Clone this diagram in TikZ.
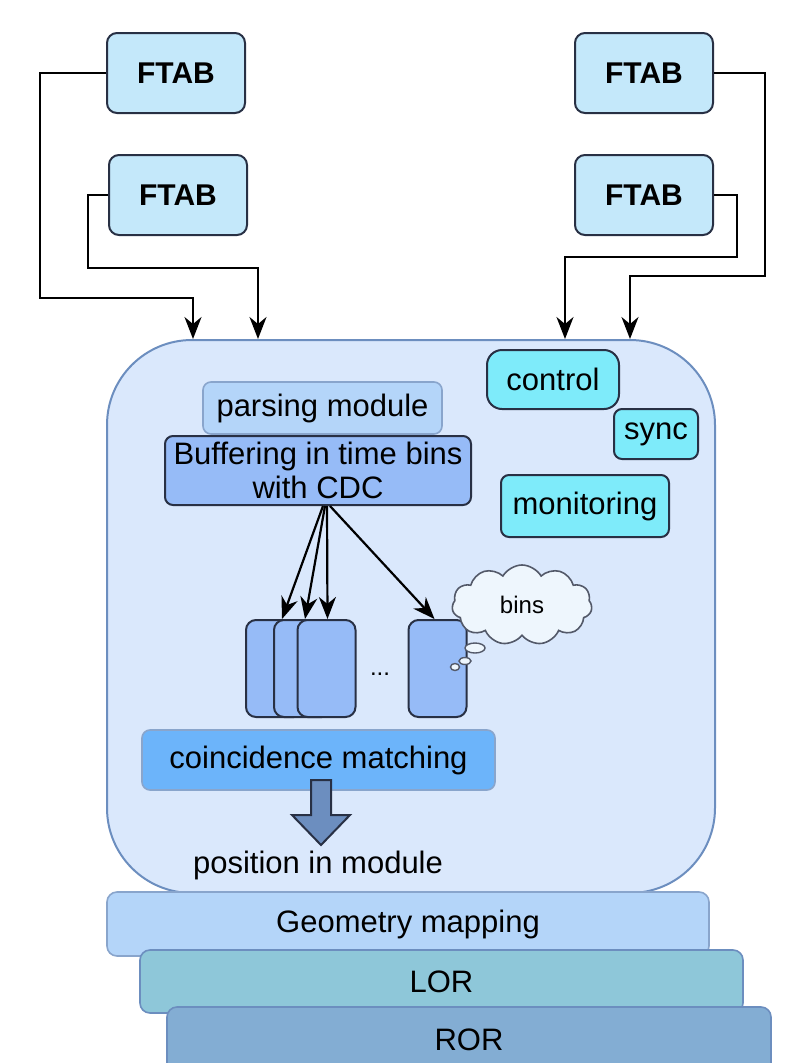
\documentclass[tikz,border=0pt]{standalone}
\usepackage{fontspec}
\setmainfont{Liberation Sans}
\usetikzlibrary{arrows.meta, positioning, shapes.symbols}
\definecolor{dline}{RGB}{40,48,68}
\definecolor{ftabfill}{RGB}{196,232,250}
\definecolor{fpgafill}{RGB}{218,232,252}
\definecolor{fpgaline}{RGB}{108,142,191}
\definecolor{parsefill}{RGB}{180,213,249}
\definecolor{bufffill}{RGB}{150,187,247}
\definecolor{ctrlfill}{RGB}{126,235,250}
\definecolor{matchfill}{RGB}{108,180,250}
\definecolor{lorfill}{RGB}{142,199,217}
\definecolor{rorfill}{RGB}{131,173,211}
\definecolor{cloudfill}{RGB}{238,246,253}

\begin{document}
\begin{tikzpicture}[x=1pt, y=-1pt,
  ftab/.style={draw=dline, line width=2pt, rounded corners=10pt, fill=ftabfill,
  minimum width=138pt, minimum height=80pt, inner sep=0pt,
  font=\fontsize{30}{34}\selectfont\bfseries},
  blk/.style={draw=dline, line width=2pt, rounded corners=8pt, inner sep=0pt,
  align=center, font=\fontsize{31}{34}\selectfont},
  soft/.style={blk, draw=fpgaline!80, line width=1.6pt},
  ctrl/.style={blk, fill=ctrlfill},
  bin/.style={draw=dline, line width=2pt, rounded corners=10pt, fill=bufffill,
  minimum width=58pt, minimum height=97pt},
  arr/.style={-{Stealth[length=22pt,width=17pt,inset=7pt]}, line width=2.2pt}
]
\useasboundingbox (0,0) rectangle (790,1063);

% FTAB boards
\node[ftab] (ftabA) at (176,73)  {FTAB};
\node[ftab] (ftabB) at (178,195) {FTAB};
\node[ftab] (ftabC) at (644,73)  {FTAB};
\node[ftab] (ftabD) at (644,195) {FTAB};

% FPGA body
\node[draw=fpgaline, line width=2pt, fill=fpgafill, rounded corners=85pt,
  minimum width=608pt, minimum height=553pt] (fpga) at (411,616.5) {};

\draw[arr] (ftabA.west) -| (40,298) -| (193,0 |- fpga.north);
\draw[arr] (ftabB.west) -| (88,268) -| (258,0 |- fpga.north);
\draw[arr] (ftabD.east) -| (737,257) -| (565,0 |- fpga.north);
\draw[arr] (ftabC.east) -| (765,276) -| (630,0 |- fpga.north);

% inside the FPGA
\node[soft, fill=parsefill, minimum width=239pt, minimum height=52pt] (parse) at (322.5,408) {parsing module};
\node[blk, fill=bufffill, minimum width=306pt, minimum height=69pt] (buff) at (318,470.5) {Buffering in time bins\\with CDC};
\node[ctrl, rounded corners=15pt, minimum width=132pt, minimum height=59pt] (ctrl) at (553,379.5) {control};
\node[ctrl, minimum width=84pt, minimum height=50pt] (sync) at (656,434) {sync};
\node[ctrl, minimum width=168pt, minimum height=62pt] (mon) at (585,506) {monitoring};

\node[bin] (binA) at (275,668.5) {};
\node[bin] (binB) at (303,668.5) {};
\node[bin] (binC) at (326.5,668.5) {};
\node[bin] (binD) at (437.5,668.5) {};
\node[font=\fontsize{24}{26}\selectfont] (dots) at (380,674) {...};

\draw[arr] ([xshift=5pt]buff.south) -- ([xshift=7pt]binA.north);
\draw[arr] ([xshift=7pt]buff.south) -- ([xshift=2pt]binB.north);
\draw[arr] ([xshift=9pt]buff.south) -- ([xshift=1pt]binC.north);
\draw[arr] ([xshift=12pt]buff.south) -- ([xshift=-3pt]binD.north);

% thought cloud
\node[cloud, cloud puffs=11, cloud puff arc=120, aspect=1.8, draw=dline!80, line width=1.6pt,
  fill=cloudfill, minimum width=140pt, minimum height=80pt, inner sep=0pt,
  font=\fontsize{24}{26}\selectfont] (cloud) at (522,605) {bins};
\draw[draw=dline!80, line width=1.4pt, fill=cloudfill] (475,648) ellipse (10pt and 5pt);
\draw[draw=dline!80, line width=1.4pt, fill=cloudfill] (465,661) ellipse (6pt and 3.5pt);
\draw[draw=dline!80, line width=1.4pt, fill=cloudfill] (455,667) ellipse (4.5pt and 3.5pt);

\node[soft, fill=matchfill, minimum width=353pt, minimum height=60pt] (match) at (318.5,760) {coincidence matching};
\node[font=\fontsize{31}{34}\selectfont] (pos) at (318,865) {position in module};
\draw[draw=dline, line width=2pt, fill=fpgaline, line join=miter]
  (311,780) -- (331,780) -- (331,815) -- (350,815) -- (321,845) -- (292,815) -- (311,815) -- cycle;

% output stages
\node[soft, fill=parsefill, rounded corners=10pt, minimum width=602pt, minimum height=64pt] (geo) at (408,924) {Geometry mapping};
\node[soft, fill=lorfill, draw=fpgaline, rounded corners=10pt, minimum width=603pt, minimum height=63pt] (lor) at (441.5,981.5) {LOR};
\node[soft, fill=rorfill, draw=fpgaline, rounded corners=10pt, minimum width=604pt, minimum height=66pt] (ror) at (469,1040) {ROR};
\end{tikzpicture}
\end{document}
